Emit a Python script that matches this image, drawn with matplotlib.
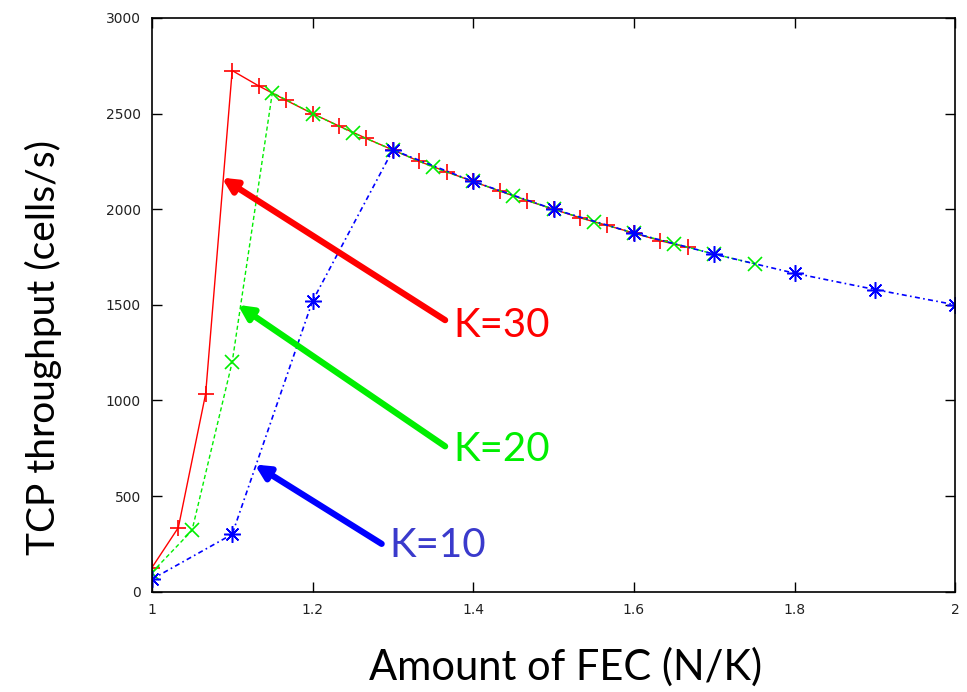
import numpy as np
import matplotlib
matplotlib.use("Agg")
import matplotlib.pyplot as plt

# K=30 (red +)
x30 = [1.0, 1.033, 1.067, 1.1, 1.133, 1.167, 1.2, 1.233, 1.267, 1.3, 1.333,
       1.367, 1.4, 1.433, 1.467, 1.5, 1.533, 1.567, 1.6, 1.633, 1.667]
y30 = [125, 335, 1035, 2725, 2645, 2570, 2500, 2435, 2370, 2310, 2250,
       2195, 2145, 2095, 2045, 2000, 1955, 1915, 1875, 1835, 1800]

# K=20 (green x)
x20 = [1.0, 1.05, 1.1, 1.15, 1.2, 1.25, 1.3, 1.35, 1.4, 1.45, 1.5, 1.55,
       1.6, 1.65, 1.7, 1.75]
y20 = [100, 320, 1200, 2610, 2500, 2400, 2310, 2220, 2145, 2070, 2000,
       1935, 1875, 1820, 1765, 1715]

# K=10 (blue asterisk)
x10 = [1.0, 1.1, 1.2, 1.3, 1.4, 1.5, 1.6, 1.7, 1.8, 1.9, 2.0]
y10 = [65, 300, 1520, 2310, 2145, 2000, 1875, 1765, 1665, 1580, 1500]

xticks = [1, 1.2, 1.4, 1.6, 1.8, 2]
xticklabels = ["1", "1.2", "1.4", "1.6", "1.8", "2"]
yticks = [0, 500, 1000, 1500, 2000, 2500, 3000]

fig = plt.figure(figsize=(9.67, 6.92), dpi=100)
ax = fig.add_axes([0.157, 0.145, 0.831, 0.829])

ax.plot(x30, y30, color="red", lw=1, ls="-", marker="+", ms=12, mew=1.2)
ax.plot(x20, y20, color="#00ee00", lw=1, ls=(0, (3, 2)), marker="x", ms=10, mew=1.2)
ax.plot(x10, y10, color="blue", lw=1.2, ls=(0, (3, 2, 1, 2)),
        marker=(8, 2, 0), ms=12, mew=1.1)

ax.set_xlim(1, 2)
ax.set_ylim(0, 3000)
ax.set_xticks(xticks)
ax.set_xticklabels(xticklabels)
ax.set_yticks(yticks)
ax.tick_params(direction="in", top=True, right=True, length=7, width=1,
               labelsize=10, pad=8, labelcolor="#222222")
for s in ax.spines.values():
    s.set_linewidth(1.2)

big = ["Lato", "DejaVu Sans"]
ax.set_xlabel("Amount of FEC (N/K)", fontsize=30, family=big)
ax.set_ylabel("TCP throughput (cells/s)", fontsize=28, family=big)
ax.xaxis.set_label_coords(0.515, -0.097)
ax.yaxis.set_label_coords(-0.112, 0.425)

# arrows and labels
arr = dict(arrowstyle="-|>,head_length=0.6,head_width=0.3", lw=4.5,
           mutation_scale=14, shrinkA=0, shrinkB=0)
ax.annotate("", xy=(1.087, 2165), xytext=(1.365, 1420),
            arrowprops=dict(arr, color="red"))
ax.text(1.375, 1390, "K=30", color="red", fontsize=29, family=big, va="center")

ax.annotate("", xy=(1.107, 1500), xytext=(1.365, 760),
            arrowprops=dict(arr, color="#00ee00"))
ax.text(1.375, 745, "K=20", color="#00ee00", fontsize=29, family=big, va="center")

ax.annotate("", xy=(1.128, 665), xytext=(1.286, 250),
            arrowprops=dict(arr, color="blue"))
ax.text(1.296, 240, "K=10", color="#3a3acc", fontsize=29, family=big, va="center")

fig.savefig("out.png", dpi=100)
